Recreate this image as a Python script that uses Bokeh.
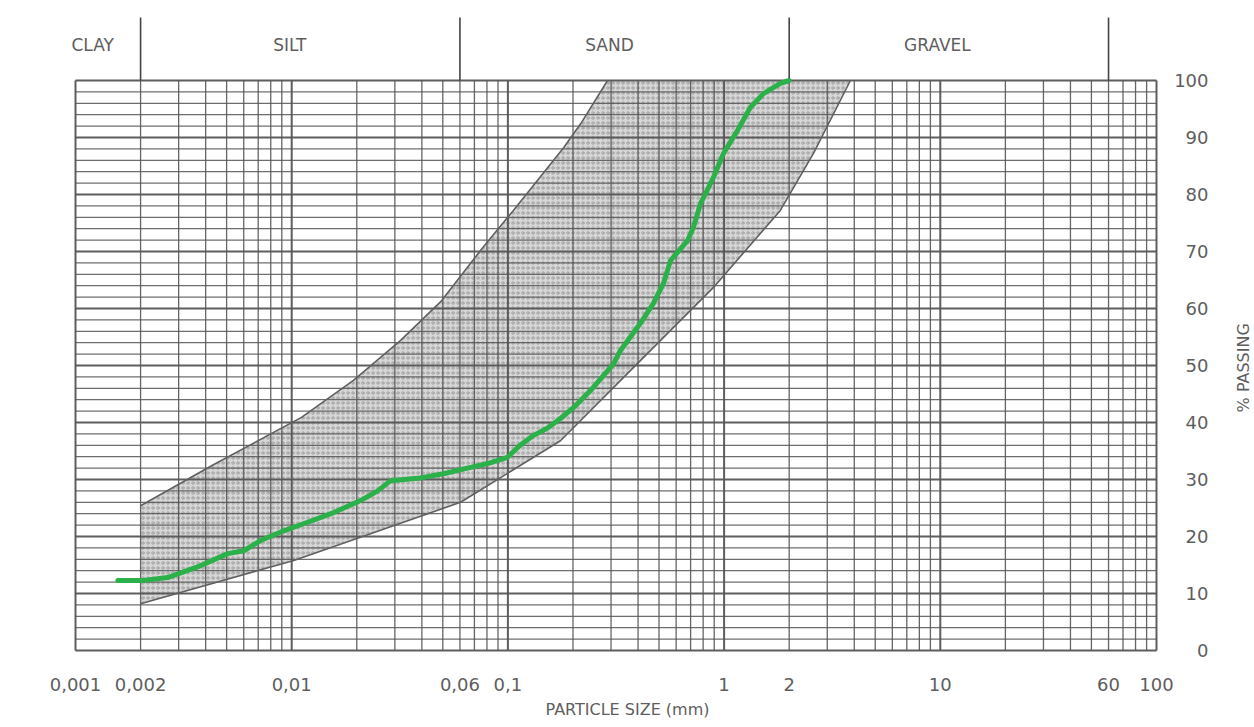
import math
from bokeh.plotting import figure
from bokeh.models import Range1d, FixedTicker
from bokeh.embed import file_html
from bokeh.resources import INLINE
from bokeh.core.properties import value

# ---------------- data ----------------
# measured grading curve (green)
sample_size_mm = [0.00157, 0.00207, 0.00267, 0.0038, 0.00506, 0.0060, 0.00719, 0.00918,
                  0.01186, 0.01563, 0.0208, 0.0250, 0.0287, 0.0382, 0.0504, 0.0650,
                  0.0805, 0.0995, 0.114, 0.131, 0.152, 0.175, 0.201, 0.241, 0.308,
                  0.331, 0.410, 0.471, 0.524, 0.565, 0.677, 0.721, 0.778, 0.893,
                  0.993, 1.153, 1.324, 1.52, 1.821, 2.0]
sample_passing = [12.3, 12.3, 12.8, 14.9, 17.0, 17.5, 19.3, 21.0,
                  22.5, 24.2, 26.3, 28.0, 29.8, 30.2, 31.0, 32.0,
                  32.8, 33.9, 36.0, 37.7, 39.0, 40.7, 42.6, 45.6, 50.3,
                  52.6, 57.4, 60.9, 64.4, 68.4, 71.9, 74.2, 78.4, 83.0,
                  87.2, 91.2, 95.3, 97.7, 99.5, 100.0]

# grading envelope (shaded zone)
upper_size_mm = [0.002, 0.0043, 0.0111, 0.0193, 0.0319, 0.0489, 0.0748, 0.106, 0.181, 0.217, 0.289]
upper_passing = [25.4, 32.5, 40.9, 47.4, 54.4, 61.2, 70.2, 77.2, 88.2, 92.4, 100.0]
lower_size_mm = [0.002, 0.01023, 0.0604, 0.175, 0.411, 0.893, 1.82, 2.59, 3.84]
lower_passing = [8.2, 15.8, 26.0, 36.8, 50.9, 63.7, 77.2, 87.2, 100.0]

# soil classes
class_names = ["CLAY", "SILT", "SAND", "GRAVEL"]
class_bounds_mm = [0.002, 0.06, 2, 60]
class_label_x = [0.0012, 0.0098, 0.295, 9.7]

# axes
x_ticks = [0.001, 0.002, 0.01, 0.06, 0.1, 1, 2, 10, 60, 100]
x_tick_labels = ["0,001", "0,002", "0,01", "0,06", "0,1", "1", "2", "10", "60", "100"]
y_ticks = [0, 10, 20, 30, 40, 50, 60, 70, 80, 90, 100]

# ---------------- layout ----------------
W, H = 1254, 727
GRID_LEFT_PX, GRID_RIGHT_PX = 75, 1156      # pixel positions of 0.001 and 100
GRID_TOP_PX, GRID_BOTTOM_PX = 80, 650       # pixel positions of 100 % and 0 %
FRAME_TOP_PX, FRAME_BOTTOM_PX = 15, 668
px_dec = (GRID_RIGHT_PX - GRID_LEFT_PX) / 5.0
x_min = 10 ** (-3 - GRID_LEFT_PX / px_dec)
x_max = 10 ** (2 + (W - GRID_RIGHT_PX) / px_dec)
px_pct = (GRID_BOTTOM_PX - GRID_TOP_PX) / 100.0
y_top = (GRID_BOTTOM_PX - FRAME_TOP_PX) / px_pct
y_bottom = (GRID_BOTTOM_PX - FRAME_BOTTOM_PX) / px_pct

FONT = "DejaVu Sans"
TXT = "#5e5e5e"
GRID = "#555555"

p = figure(width=W, height=H, x_axis_type="log",
           x_range=Range1d(x_min, x_max), y_range=Range1d(y_bottom, y_top),
           y_axis_location=None, output_backend="svg", toolbar_location=None,
           min_border_left=0, min_border_right=0, min_border_top=FRAME_TOP_PX,
           min_border_bottom=H - FRAME_BOTTOM_PX, background_fill_color="white",
           border_fill_color="white")
p.outline_line_color = None
p.xgrid.visible = False
p.ygrid.visible = False

ax = p.xaxis[0]
ax.ticker = FixedTicker(ticks=x_ticks)
ax.major_label_overrides = {t: l for t, l in zip(x_ticks, x_tick_labels)}
ax.axis_line_color = None
ax.major_tick_line_color = None
ax.minor_tick_line_color = None
ax.major_tick_out = 0
ax.major_label_standoff = 9
ax.major_label_text_font = FONT
ax.major_label_text_font_size = "18px"
ax.major_label_text_color = TXT
ax.axis_label = "PARTICLE SIZE (mm)"
ax.axis_label_standoff = 6
ax.axis_label_text_font = FONT
ax.axis_label_text_font_size = "16px"
ax.axis_label_text_font_style = "normal"
ax.axis_label_text_color = TXT

# envelope fill
env_x = upper_size_mm + lower_size_mm[::-1]
env_y = upper_passing + lower_passing[::-1]
p.patch(env_x, env_y, fill_color="#d6d6d6", line_color=None,
        hatch_pattern="ring", hatch_scale=5, hatch_color="#7a7a7a",
        hatch_weight=0.8, hatch_alpha=0.7)

# grid
vx = [m * 10 ** e for e in range(-3, 2) for m in range(1, 10)] + [100]
decades = [10 ** e for e in range(-3, 3)]
vx_thin = [v for v in vx if min(abs(math.log10(v) - math.log10(d)) for d in decades) > 1e-6]
p.segment(x0=vx_thin, y0=[0] * len(vx_thin), x1=vx_thin, y1=[100] * len(vx_thin),
          line_color=GRID, line_width=1.3, line_alpha=0.9)
p.segment(x0=decades, y0=[0] * len(decades), x1=decades, y1=[100] * len(decades),
          line_color=GRID, line_width=2, line_alpha=0.95)
hy = list(range(0, 101, 2))
hy_thin = [h for h in hy if h % 10 != 0]
hy_thick = [h for h in hy if h % 10 == 0]
p.segment(x0=[0.001] * len(hy_thin), y0=hy_thin, x1=[100] * len(hy_thin), y1=hy_thin,
          line_color=GRID, line_width=1.2, line_alpha=0.85)
p.segment(x0=[0.001] * len(hy_thick), y0=hy_thick, x1=[100] * len(hy_thick), y1=hy_thick,
          line_color=GRID, line_width=2, line_alpha=0.95)

# class boundary lines extending above chart
line_top = (GRID_BOTTOM_PX - 17) / px_pct
p.segment(x0=class_bounds_mm, y0=[100] * 4, x1=class_bounds_mm, y1=[line_top] * 4,
          line_color="#444444", line_width=1.6)
p.text(x=class_label_x, y=[106.3] * 4, text=class_names,
       text_font=value(FONT), text_font_size="17px", text_color=TXT,
       text_align="center", text_baseline="middle")

# envelope edges
p.line(upper_size_mm, upper_passing, line_color="#606060", line_width=1.6)
p.line(lower_size_mm, lower_passing, line_color="#606060", line_width=1.6)

# grading curve
p.line(sample_size_mm, sample_passing, line_color="#2bb04a", line_width=5,
       line_join="round", line_cap="round")

# right-hand percentage scale
p.text(x=[100] * len(y_ticks), y=y_ticks, text=[str(t) for t in y_ticks],
       x_offset=52, text_align="right", text_baseline="middle",
       text_font=value(FONT), text_font_size="18px", text_color=TXT)
p.text(x=[100], y=[49.6], text=["% PASSING"], x_offset=87, angle=math.pi / 2,
       text_align="center", text_baseline="middle",
       text_font=value(FONT), text_font_size="16px", text_color=TXT)

open("out.html", "w").write(file_html(p, INLINE))
